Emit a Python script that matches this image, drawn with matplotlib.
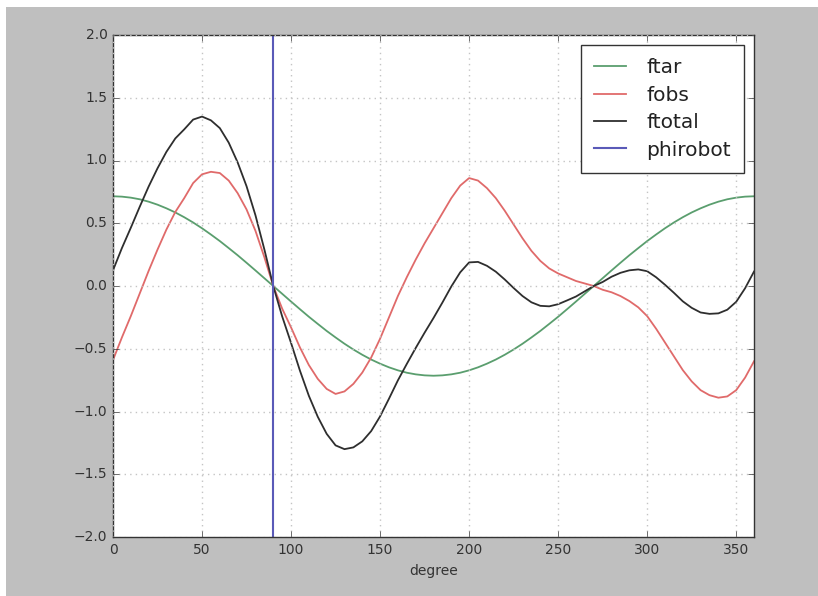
import numpy as np
import matplotlib
matplotlib.use("Agg")
import matplotlib.pyplot as plt
from matplotlib.patches import Rectangle

degree = list(range(0, 361, 5))
ftar = [0.715, 0.712, 0.704, 0.691, 0.672, 0.648, 0.619, 0.586, 0.548, 0.506,
        0.460, 0.410, 0.358, 0.302, 0.245, 0.185, 0.124, 0.062, 0.0,
        -0.062, -0.124, -0.185, -0.245, -0.302, -0.358, -0.410, -0.460, -0.506,
        -0.548, -0.586, -0.619, -0.648, -0.672, -0.691, -0.704, -0.712, -0.715,
        -0.712, -0.704, -0.691, -0.672, -0.648, -0.619, -0.586, -0.548, -0.506,
        -0.460, -0.410, -0.358, -0.302, -0.245, -0.185, -0.124, -0.062, 0.0,
        0.062, 0.124, 0.185, 0.245, 0.302, 0.358, 0.410, 0.460, 0.506,
        0.548, 0.586, 0.619, 0.648, 0.672, 0.691, 0.704, 0.712, 0.715]
fobs = [-0.59, -0.41, -0.24, -0.06, 0.12, 0.29, 0.45, 0.59, 0.70, 0.82,
        0.89, 0.91, 0.90, 0.84, 0.74, 0.61, 0.44, 0.23, 0.00,
        -0.18, -0.33, -0.49, -0.63, -0.74, -0.82, -0.86, -0.84, -0.78,
        -0.69, -0.57, -0.42, -0.25, -0.08, 0.07, 0.21, 0.34, 0.46,
        0.58, 0.70, 0.80, 0.86, 0.84, 0.78, 0.70, 0.60, 0.49,
        0.38, 0.28, 0.20, 0.14, 0.10, 0.07, 0.04, 0.02, 0.00,
        -0.03, -0.05, -0.08, -0.12, -0.17, -0.24, -0.34, -0.45, -0.56,
        -0.67, -0.76, -0.83, -0.87, -0.89, -0.88, -0.83, -0.73, -0.60]
ftotal = [0.125, 0.302, 0.464, 0.631, 0.792, 0.938, 1.069, 1.176, 1.248, 1.326,
          1.350, 1.320, 1.258, 1.142, 0.985, 0.795, 0.564, 0.292, 0.0,
          -0.242, -0.454, -0.675, -0.875, -1.042, -1.178, -1.270, -1.300, -1.286,
          -1.238, -1.156, -1.039, -0.898, -0.752, -0.621, -0.494, -0.372, -0.255,
          -0.132, -0.004, 0.109, 0.188, 0.192, 0.161, 0.114, 0.052, -0.016,
          -0.080, -0.130, -0.158, -0.162, -0.145, -0.115, -0.084, -0.042, 0.0,
          0.032, 0.074, 0.105, 0.125, 0.132, 0.118, 0.070, 0.010, -0.054,
          -0.122, -0.174, -0.211, -0.222, -0.218, -0.189, -0.126, -0.018, 0.115]
phirobot = 90

plt.style.use('classic')
fig = plt.figure(figsize=(8.18, 5.96), dpi=100, facecolor='#bfbfbf')
# white strips of the screenshot border
fig.patches.append(Rectangle((0, 1 - 7 / 596), 1, 7 / 596, transform=fig.transFigure,
                             facecolor='white', edgecolor='none', zorder=-1))
fig.patches.append(Rectangle((0, 0), 6 / 818, 1, transform=fig.transFigure,
                             facecolor='white', edgecolor='none', zorder=-1))

ax = fig.add_axes([113 / 818, 59 / 596, 641 / 818, 502 / 596])
ax.plot(degree, ftar, color='#5a9e6e', lw=1.3, label='ftar')
ax.plot(degree, fobs, color='#e06a6a', lw=1.3, label='fobs')
ax.plot(degree, ftotal, color='#2e2e2e', lw=1.3, label='ftotal')
ax.axvline(phirobot, color='#5a5ab8', lw=1.5, label='phirobot')

ax.set_xlim(0, 360)
ax.set_ylim(-2.0, 2.0)
ax.set_xticks(np.arange(0, 351, 50))
ax.set_yticks(np.arange(-2.0, 2.01, 0.5))
ax.tick_params(labelsize=10, colors='#333333')
ax.set_xlabel('degree', fontsize=10, color='#333333')
ax.grid(True, color='#c4c4c4', linestyle=':', linewidth=1)
for s in ax.spines.values():
    s.set_color('#333333')

leg = ax.legend(loc='upper right', fontsize=14.5, borderaxespad=0.5, borderpad=0.65,
                handlelength=1.6, labelspacing=0.42, handletextpad=1.0, numpoints=1)
leg.get_frame().set_edgecolor('#333333')
for t in leg.get_texts():
    t.set_color('#222222')

fig.savefig('out.png', dpi=100, facecolor=fig.get_facecolor())
